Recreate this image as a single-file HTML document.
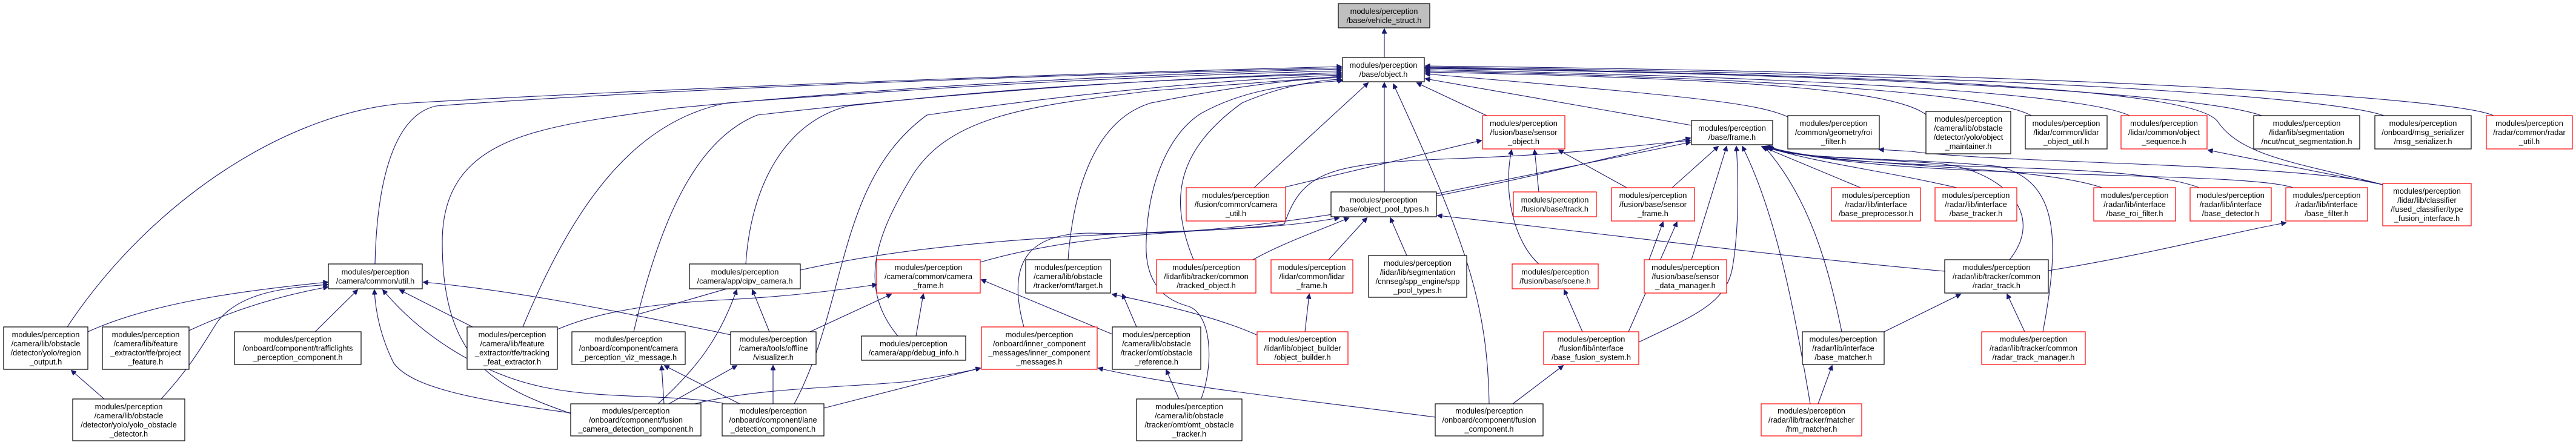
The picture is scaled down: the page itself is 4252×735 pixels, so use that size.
<!DOCTYPE html>
<html><head><meta charset="utf-8"><style>
html,body{margin:0;padding:0;background:#fff;}
svg{display:block;}
text{font-family:"Liberation Sans",Arial,sans-serif;font-size:12.8px;fill:#000;text-anchor:middle;}
.e{fill:none;stroke:#191970;stroke-width:1.1;marker-end:url(#a);}
.b{fill:#fff;stroke:#000;stroke-width:1.2;}
.r{fill:#fff;stroke:#ff0000;stroke-width:1.2;}
</style></head><body>
<svg width="4252" height="735" viewBox="0 0 4252 735" xmlns="http://www.w3.org/2000/svg">
<defs><marker id="a" viewBox="0 0 10 10" refX="9" refY="5" markerWidth="10" markerHeight="8" markerUnits="userSpaceOnUse" orient="auto"><path d="M0,0L10,5L0,10z" fill="#191970" stroke="#191970"/></marker></defs>
<rect width="4252" height="735" fill="#fff"/>
<g>
<path class="e" d="M2285,95L2285,48"/>
<path class="e" d="M111,540C250,330 480,180 680,170C1200,140 1900,118 2214,110"/>
<path class="e" d="M619,436C622,300 650,190 720,175C1200,140 1900,120 2214,112"/>
<path class="e" d="M942,683C820,640 730,600 730,400C730,220 900,210 1100,180C1500,140 1900,122 2214,114"/>
<path class="e" d="M863,540C950,330 1050,200 1200,170C1600,140 1900,125 2214,117"/>
<path class="e" d="M1046,548C1090,360 1150,230 1250,190C1600,150 1950,128 2214,120"/>
<path class="e" d="M1231,436C1240,300 1300,200 1400,175C1700,140 2000,128 2214,122"/>
<path class="e" d="M1311,667C1400,500 1380,300 1530,190C1800,150 2050,130 2214,124"/>
<path class="e" d="M1482,555C1420,480 1440,400 1500,300C1560,190 1700,175 1900,150L2214,126"/>
<path class="e" d="M1763,429C1770,330 1800,200 1900,170C2050,140 2150,130 2214,128"/>
<path class="e" d="M1970,429C1930,330 1940,250 2050,170C2120,140 2180,132 2214,131"/>
<path class="e" d="M1983,658C2004,600 2000,520 1962,506C1900,490 1890,440 1892,398C1895,300 1930,220 1983,187C2050,150 2120,140 2216,133"/>
<path class="e" d="M2070,310L2258,137"/>
<path class="e" d="M2285,317L2285,137"/>
<path class="e" d="M2458,667C2455,500 2420,400 2300,139"/>
<path class="e" d="M2454,191L2339,137"/>
<path class="e" d="M2792,207L2353,130"/>
<path class="e" d="M2951,193C2900,170 2800,160 2353,122"/>
<path class="e" d="M3180,190C3130,150 2900,130 2353,119"/>
<path class="e" d="M3353,191C3300,160 3000,130 2353,117"/>
<path class="e" d="M3515,191C3450,160 3100,130 2353,115"/>
<path class="e" d="M3733,191C3650,160 3200,125 2353,113"/>
<path class="e" d="M3935,191C3850,160 3300,122 2353,111"/>
<path class="e" d="M4116,191C4050,160 3400,120 2353,109"/>
<path class="e" d="M3933,305C3800,270 3700,260 3660,200C3620,150 3200,125 2353,112"/>
<path class="e" d="M1690,540C1660,430 1700,385 1800,385C2100,395 2500,300 2790,228"/>
<path class="e" d="M1618,433C1800,380 2000,385 2120,370C2150,280 2200,270 2400,262C2600,255 2700,240 2790,232"/>
<path class="e" d="M2371,320L2790,235"/>
<path class="e" d="M2121,309L2445,232"/>
<path class="e" d="M2540,317L2533,248"/>
<path class="e" d="M2540,436C2500,400 2480,320 2495,248"/>
<path class="e" d="M2685,310L2573,248"/>
<path class="e" d="M2193,429L2256,360"/>
<path class="e" d="M2322,422L2295,360"/>
<path class="e" d="M2068,429C2120,400 2180,380 2226,360"/>
<path class="e" d="M1050,520C1300,450 1400,400 2000,380C2100,375 2150,370 2210,360"/>
<path class="e" d="M3210,448C2900,420 2600,380 2373,356"/>
<path class="e" d="M2760,310L2836,242"/>
<path class="e" d="M2792,429L2850,242"/>
<path class="e" d="M2705,565C2800,520 2850,500 2860,440C2870,380 2870,300 2866,242"/>
<path class="e" d="M2988,667C2960,500 2930,350 2876,242"/>
<path class="e" d="M3040,548C3020,450 2990,330 2912,242"/>
<path class="e" d="M3071,310L2908,242"/>
<path class="e" d="M3230,310C3100,280 3000,270 2912,242"/>
<path class="e" d="M3470,310C3350,270 3050,280 2914,242"/>
<path class="e" d="M3630,310C3500,260 3050,290 2916,242"/>
<path class="e" d="M3785,310C3700,280 3100,300 2918,242"/>
<path class="e" d="M3317,429C3380,350 3300,280 3200,270C3050,260 2950,260 2918,243"/>
<path class="e" d="M3372,548C3400,400 3400,300 3300,275C3150,260 2960,265 2920,243"/>
<path class="e" d="M3933,305C3800,270 3300,270 3155,250L3102,247"/>
<path class="e" d="M3933,305L3645,248"/>
<path class="e" d="M3381,447C3550,420 3700,380 3773,368"/>
<path class="e" d="M3110,548L3236,486"/>
<path class="e" d="M3342,548L3313,486"/>
<path class="e" d="M2688,548L2768,367"/>
<path class="e" d="M2722,429L2745,367"/>
<path class="e" d="M2612,548L2582,479"/>
<path class="e" d="M2497,667L2580,604"/>
<path class="e" d="M3001,667L3024,604"/>
<path class="e" d="M2154,548L2161,486"/>
<path class="e" d="M1876,540L1853,486"/>
<path class="e" d="M2074,553C2000,520 1900,500 1836,486"/>
<path class="e" d="M1946,659L1925,611"/>
<path class="e" d="M1337,548L1471,486"/>
<path class="e" d="M1512,555L1524,486"/>
<path class="e" d="M1836,552L1620,462"/>
<path class="e" d="M920,544C1000,510 1100,500 1200,495C1300,490 1380,480 1447,470"/>
<path class="e" d="M145,548C250,500 400,480 541,466"/>
<path class="e" d="M312,546C400,505 480,485 541,474"/>
<path class="e" d="M266,659C320,600 340,560 360,530C400,480 480,475 541,470"/>
<path class="e" d="M520,548L590,479"/>
<path class="e" d="M780,540L660,479"/>
<path class="e" d="M942,682C780,660 680,640 650,600C630,560 620,520 618,479"/>
<path class="e" d="M1194,666C1100,650 1000,660 900,640C800,620 700,560 632,479"/>
<path class="e" d="M1206,553C1000,510 850,480 699,466"/>
<path class="e" d="M172,659L118,612"/>
<path class="e" d="M1270,548L1242,479"/>
<path class="e" d="M1086,667C1160,600 1190,550 1216,479"/>
<path class="e" d="M1096,667L1092,604"/>
<path class="e" d="M1221,667L1097,604"/>
<path class="e" d="M1104,667L1216,604"/>
<path class="e" d="M1276,667L1276,604"/>
<path class="e" d="M1147,667C1250,640 1400,640 1500,630C1560,620 1590,615 1618,608"/>
<path class="e" d="M1360,674L1618,608"/>
<path class="e" d="M2369,689C2150,660 1950,640 1813,608"/>
</g>
<g>
<rect x="2209" y="6" width="151" height="40" fill="#bfbfbf" stroke="#000" stroke-width="1.2"/>
<text x="2284.5" y="23">modules/perception</text><text x="2284.5" y="38">/base/vehicle_struct.h</text>

<rect class="b" x="2216" y="95" width="135" height="40"/>
<text x="2283.5" y="112">modules/perception</text><text x="2283.5" y="127">/base/object.h</text>

<rect class="b" x="6" y="540" width="139" height="70"/>
<text x="75.5" y="557">modules/perception</text><text x="75.5" y="572">/camera/lib/obstacle</text><text x="75.5" y="587">/detector/yolo/region</text><text x="75.5" y="602">_output.h</text>

<rect class="b" x="169" y="540" width="143" height="70"/>
<text x="240.5" y="557">modules/perception</text><text x="240.5" y="572">/camera/lib/feature</text><text x="240.5" y="587">_extractor/tfe/project</text><text x="240.5" y="602">_feature.h</text>

<rect class="b" x="387" y="548" width="209" height="54"/>
<text x="491.5" y="564.5">modules/perception</text><text x="491.5" y="579.5">/onboard/component/trafficlights</text><text x="491.5" y="594.5">_perception_component.h</text>

<rect class="b" x="542" y="436" width="155" height="41"/>
<text x="619.5" y="453.5">modules/perception</text><text x="619.5" y="468.5">/camera/common/util.h</text>

<rect class="b" x="771" y="540" width="149" height="70"/>
<text x="845.5" y="557">modules/perception</text><text x="845.5" y="572">/camera/lib/feature</text><text x="845.5" y="587">_extractor/tfe/tracking</text><text x="845.5" y="602">_feat_extractor.h</text>

<rect class="b" x="944" y="548" width="187" height="54"/>
<text x="1037.5" y="564.5">modules/perception</text><text x="1037.5" y="579.5">/onboard/component/camera</text><text x="1037.5" y="594.5">_perception_viz_message.h</text>

<rect class="b" x="120" y="659" width="185" height="69"/>
<text x="212.5" y="676">modules/perception</text><text x="212.5" y="691">/camera/lib/obstacle</text><text x="212.5" y="706">/detector/yolo/yolo_obstacle</text><text x="212.5" y="721">_detector.h</text>

<rect class="b" x="942" y="667" width="215" height="53"/>
<text x="1049.5" y="683">modules/perception</text><text x="1049.5" y="698">/onboard/component/fusion</text><text x="1049.5" y="713">_camera_detection_component.h</text>

<rect class="b" x="1138" y="436" width="183" height="41"/>
<text x="1229.5" y="453.5">modules/perception</text><text x="1229.5" y="468.5">/camera/app/cipv_camera.h</text>

<rect class="r" x="1447" y="429" width="171" height="55"/>
<text x="1532.5" y="446">modules/perception</text><text x="1532.5" y="461">/camera/common/camera</text><text x="1532.5" y="476">_frame.h</text>

<rect class="b" x="1693" y="429" width="140" height="55"/>
<text x="1763" y="446">modules/perception</text><text x="1763" y="461">/camera/lib/obstacle</text><text x="1763" y="476">/tracker/omt/target.h</text>

<rect class="r" x="1909" y="429" width="164" height="55"/>
<text x="1991" y="446">modules/perception</text><text x="1991" y="461">/lidar/lib/tracker/common</text><text x="1991" y="476">/tracked_object.h</text>

<rect class="r" x="2098" y="429" width="135" height="55"/>
<text x="2165.5" y="446">modules/perception</text><text x="2165.5" y="461">/lidar/common/lidar</text><text x="2165.5" y="476">_frame.h</text>

<rect class="r" x="1958" y="310" width="164" height="55"/>
<text x="2040" y="327">modules/perception</text><text x="2040" y="342">/fusion/common/camera</text><text x="2040" y="357">_util.h</text>

<rect class="b" x="1206" y="548" width="141" height="54"/>
<text x="1276.5" y="564.5">modules/perception</text><text x="1276.5" y="579.5">/camera/tools/offline</text><text x="1276.5" y="594.5">/visualizer.h</text>

<rect class="b" x="1422" y="555" width="172" height="40"/>
<text x="1508" y="572">modules/perception</text><text x="1508" y="587">/camera/app/debug_info.h</text>

<rect class="r" x="1620" y="540" width="191" height="70"/>
<text x="1715.5" y="557">modules/perception</text><text x="1715.5" y="572">/onboard/inner_component</text><text x="1715.5" y="587">_messages/inner_component</text><text x="1715.5" y="602">_messages.h</text>

<rect class="b" x="1836" y="540" width="146" height="70"/>
<text x="1909" y="557">modules/perception</text><text x="1909" y="572">/camera/lib/obstacle</text><text x="1909" y="587">/tracker/omt/obstacle</text><text x="1909" y="602">_reference.h</text>

<rect class="r" x="2075" y="548" width="150" height="54"/>
<text x="2150" y="564.5">modules/perception</text><text x="2150" y="579.5">/lidar/lib/object_builder</text><text x="2150" y="594.5">/object_builder.h</text>

<rect class="b" x="1192" y="667" width="168" height="53"/>
<text x="1276" y="683">modules/perception</text><text x="1276" y="698">/onboard/component/lane</text><text x="1276" y="713">_detection_component.h</text>

<rect class="b" x="1876" y="659" width="174" height="69"/>
<text x="1963" y="676">modules/perception</text><text x="1963" y="691">/camera/lib/obstacle</text><text x="1963" y="706">/tracker/omt/omt_obstacle</text><text x="1963" y="721">_tracker.h</text>

<rect class="r" x="2447" y="191" width="136" height="55"/>
<text x="2515" y="208">modules/perception</text><text x="2515" y="223">/fusion/base/sensor</text><text x="2515" y="238">_object.h</text>

<rect class="b" x="2792" y="199" width="134" height="40"/>
<text x="2859" y="216">modules/perception</text><text x="2859" y="231">/base/frame.h</text>

<rect class="b" x="2951" y="191" width="151" height="55"/>
<text x="3026.5" y="208">modules/perception</text><text x="3026.5" y="223">/common/geometry/roi</text><text x="3026.5" y="238">_filter.h</text>

<rect class="b" x="2197" y="317" width="174" height="41"/>
<text x="2284" y="334.5">modules/perception</text><text x="2284" y="349.5">/base/object_pool_types.h</text>

<rect class="r" x="2498" y="317" width="137" height="41"/>
<text x="2566.5" y="334.5">modules/perception</text><text x="2566.5" y="349.5">/fusion/base/track.h</text>

<rect class="r" x="2660" y="310" width="137" height="55"/>
<text x="2728.5" y="327">modules/perception</text><text x="2728.5" y="342">/fusion/base/sensor</text><text x="2728.5" y="357">_frame.h</text>

<rect class="r" x="3023" y="310" width="147" height="55"/>
<text x="3096.5" y="327">modules/perception</text><text x="3096.5" y="342">/radar/lib/interface</text><text x="3096.5" y="357">/base_preprocessor.h</text>

<rect class="b" x="2259" y="422" width="162" height="69"/>
<text x="2340" y="439">modules/perception</text><text x="2340" y="454">/lidar/lib/segmentation</text><text x="2340" y="469">/cnnseg/spp_engine/spp</text><text x="2340" y="484">_pool_types.h</text>

<rect class="r" x="2496" y="436" width="142" height="41"/>
<text x="2567" y="453.5">modules/perception</text><text x="2567" y="468.5">/fusion/base/scene.h</text>

<rect class="r" x="2714" y="429" width="136" height="55"/>
<text x="2782" y="446">modules/perception</text><text x="2782" y="461">/fusion/base/sensor</text><text x="2782" y="476">_data_manager.h</text>

<rect class="r" x="2548" y="548" width="157" height="54"/>
<text x="2626.5" y="564.5">modules/perception</text><text x="2626.5" y="579.5">/fusion/lib/interface</text><text x="2626.5" y="594.5">/base_fusion_system.h</text>

<rect class="b" x="2975" y="548" width="135" height="54"/>
<text x="3042.5" y="564.5">modules/perception</text><text x="3042.5" y="579.5">/radar/lib/interface</text><text x="3042.5" y="594.5">/base_matcher.h</text>

<rect class="b" x="2369" y="667" width="178" height="53"/>
<text x="2458" y="683">modules/perception</text><text x="2458" y="698">/onboard/component/fusion</text><text x="2458" y="713">_component.h</text>

<rect class="r" x="2907" y="667" width="166" height="53"/>
<text x="2990" y="683">modules/perception</text><text x="2990" y="698">/radar/lib/tracker/matcher</text><text x="2990" y="713">/hm_matcher.h</text>

<rect class="b" x="3179" y="184" width="140" height="70"/>
<text x="3249" y="201">modules/perception</text><text x="3249" y="216">/camera/lib/obstacle</text><text x="3249" y="231">/detector/yolo/object</text><text x="3249" y="246">_maintainer.h</text>

<rect class="b" x="3343" y="191" width="135" height="55"/>
<text x="3410.5" y="208">modules/perception</text><text x="3410.5" y="223">/lidar/common/lidar</text><text x="3410.5" y="238">_object_util.h</text>

<rect class="r" x="3501" y="191" width="142" height="55"/>
<text x="3572" y="208">modules/perception</text><text x="3572" y="223">/lidar/common/object</text><text x="3572" y="238">_sequence.h</text>

<rect class="b" x="3720" y="191" width="175" height="55"/>
<text x="3807.5" y="208">modules/perception</text><text x="3807.5" y="223">/lidar/lib/segmentation</text><text x="3807.5" y="238">/ncut/ncut_segmentation.h</text>

<rect class="b" x="3920" y="191" width="159" height="55"/>
<text x="3999.5" y="208">modules/perception</text><text x="3999.5" y="223">/onboard/msg_serializer</text><text x="3999.5" y="238">/msg_serializer.h</text>

<rect class="r" x="4104" y="191" width="142" height="55"/>
<text x="4175" y="208">modules/perception</text><text x="4175" y="223">/radar/common/radar</text><text x="4175" y="238">_util.h</text>

<rect class="r" x="3194" y="310" width="135" height="55"/>
<text x="3261.5" y="327">modules/perception</text><text x="3261.5" y="342">/radar/lib/interface</text><text x="3261.5" y="357">/base_tracker.h</text>

<rect class="r" x="3456" y="310" width="135" height="55"/>
<text x="3523.5" y="327">modules/perception</text><text x="3523.5" y="342">/radar/lib/interface</text><text x="3523.5" y="357">/base_roi_filter.h</text>

<rect class="r" x="3615" y="310" width="134" height="55"/>
<text x="3682" y="327">modules/perception</text><text x="3682" y="342">/radar/lib/interface</text><text x="3682" y="357">/base_detector.h</text>

<rect class="r" x="3773" y="310" width="135" height="55"/>
<text x="3840.5" y="327">modules/perception</text><text x="3840.5" y="342">/radar/lib/interface</text><text x="3840.5" y="357">/base_filter.h</text>

<rect class="r" x="3933" y="303" width="146" height="70"/>
<text x="4006" y="320">modules/perception</text><text x="4006" y="335">/lidar/lib/classifier</text><text x="4006" y="350">/fused_classifier/type</text><text x="4006" y="365">_fusion_interface.h</text>

<rect class="b" x="3210" y="429" width="171" height="55"/>
<text x="3295.5" y="446">modules/perception</text><text x="3295.5" y="461">/radar/lib/tracker/common</text><text x="3295.5" y="476">/radar_track.h</text>

<rect class="r" x="3271" y="548" width="171" height="54"/>
<text x="3356.5" y="564.5">modules/perception</text><text x="3356.5" y="579.5">/radar/lib/tracker/common</text><text x="3356.5" y="594.5">/radar_track_manager.h</text>
</g>
</svg>
</body></html>
